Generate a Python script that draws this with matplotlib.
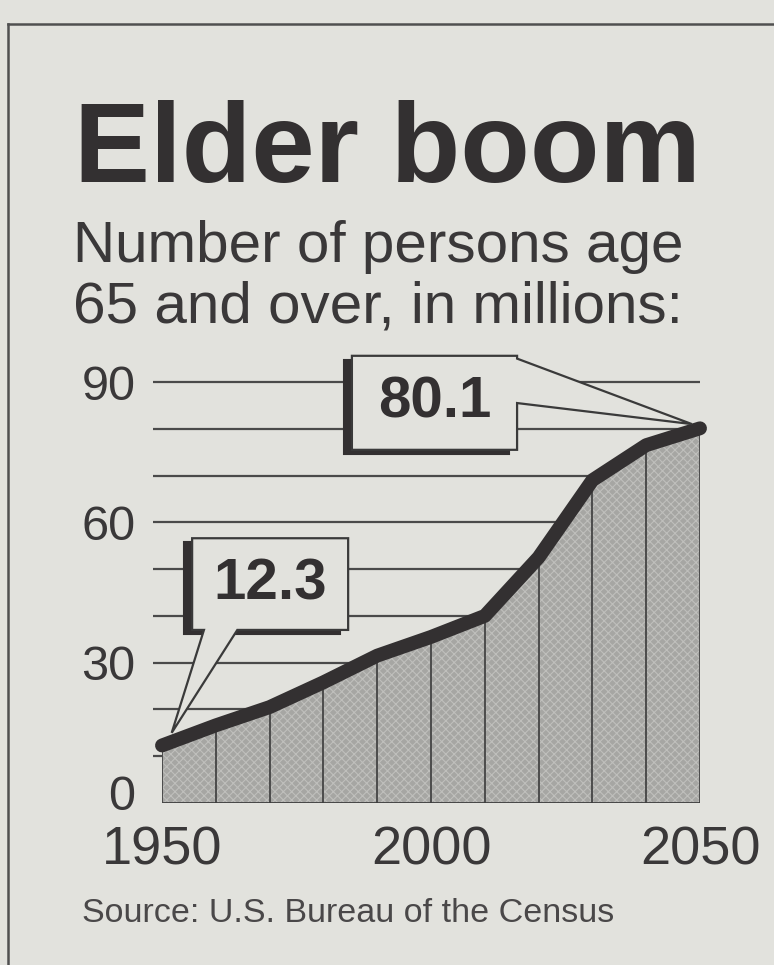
import matplotlib.pyplot as plt
from matplotlib.patches import Polygon, Rectangle
from matplotlib.transforms import ScaledTranslation
from matplotlib.lines import Line2D

years = [1950, 1960, 1970, 1980, 1990, 2000, 2010, 2020, 2030, 2040, 2050]
persons_65_plus = [12.3, 16.6, 20.5, 25.8, 31.5, 35.5, 40.0, 52.5, 69.0, 76.5, 80.1]
y_ticks = [0, 30, 60, 90]
x_ticks = [1950, 2000, 2050]
grid_levels = [10, 20, 30, 40, 50, 60, 70, 80, 90]

paper = '#e2e2dd'
ink = '#333031'

plt.rcParams['font.family'] = ['Liberation Sans', 'DejaVu Sans']
plt.rcParams['hatch.linewidth'] = 0.8

fig = plt.figure(figsize=(7.74, 9.65), dpi=100)
fig.patch.set_facecolor(paper)

# clipping frame
fig.add_artist(Line2D([8/774, 1], [1 - 24/965, 1 - 24/965], transform=fig.transFigure, color='#505050', lw=1.8))
fig.add_artist(Line2D([8/774, 8/774], [0, 1 - 24/965], transform=fig.transFigure, color='#505050', lw=1.8))

fig.text(74/774, 1 - 182/965, 'Elder boom', fontsize=82, weight='bold', color=ink, va='baseline')
fig.text(73/774, 1 - 262/965, 'Number of persons age', fontsize=42, color='#3a3839', va='baseline')
fig.text(73/774, 1 - 323/965, '65 and over, in millions:', fontsize=42, color='#3a3839', va='baseline')
fig.text(82/774, 1 - 922/965, 'Source: U.S. Bureau of the Census', fontsize=24.5, color='#4a4849', va='baseline')

ax = fig.add_axes([162/774, 162/965, 538/774, 421/965])
ax.set_facecolor('none')
ax.set_xlim(1950, 2050)
ax.set_ylim(0, 90)
for s in ax.spines.values():
    s.set_visible(False)
ax.set_xticks(x_ticks)
ax.set_yticks(y_ticks)
ax.tick_params(axis='y', length=0, pad=19, labelsize=35, labelcolor='#3a3839')
ax.tick_params(axis='x', length=0, pad=16, labelsize=39, labelcolor='#3a3839')
# the "0" sits a little above the baseline in the original
zero_tick = ax.yaxis.get_major_ticks()[0]
zero_tick.label1.set_transform(zero_tick.label1.get_transform()
                               + ScaledTranslation(0, 0.1, fig.dpi_scale_trans))

ax.hlines(grid_levels, 1948.3, 2050, colors='#4a4a4a', lw=1.6, clip_on=False, zorder=1)
ax.fill_between(years, persons_65_plus, 0, facecolor='#a6a6a3', edgecolor='#bfbfbc',
                hatch='xxxx', lw=0, zorder=2)
ax.vlines(years, 0, persons_65_plus, colors='#444444', lw=1.3, zorder=3)
ax.hlines(0, years[0], years[-1], colors='#3d3d3d', lw=2, zorder=3)
ax.plot(years, persons_65_plus, color=ink, lw=10, solid_capstyle='round',
        solid_joinstyle='round', zorder=6, clip_on=False)


def callout(x0, x1, y0, y1, base, tip, label, side):
    shift = ax.transData + ScaledTranslation(-0.08, -0.04, fig.dpi_scale_trans)
    ax.add_patch(Rectangle((x0, y0), x1 - x0, y1 - y0, transform=shift, facecolor=ink,
                           edgecolor=ink, lw=1.5, clip_on=False, zorder=7))
    if side == 'bottom':
        pts = [(x0, y1), (x1, y1), (x1, y0), (base[1], y0), tip, (base[0], y0), (x0, y0)]
    else:
        pts = [(x0, y1), (x1, y1), (x1, base[0]), tip, (x1, base[1]), (x1, y0), (x0, y0)]
    ax.add_patch(Polygon(pts, closed=True, facecolor=paper, edgecolor='#3a3a3a', lw=1.6,
                         joinstyle='miter', clip_on=False, zorder=8))
    ax.text((x0 + x1) / 2, (y0 + y1) / 2, label, fontsize=42, weight='bold', color=ink,
            ha='center', va='center', zorder=9)


callout(1955.6, 1984.6, 37.0, 56.6, (1957.8, 1964.0), (1951.8, 15), f'{persons_65_plus[0]}', 'bottom')
callout(1985.3, 2016.0, 75.5, 95.6, (95.0, 85.5), (2048.5, 81), f'{persons_65_plus[-1]}', 'right')

fig.savefig('out.png', dpi=100, facecolor=paper)
